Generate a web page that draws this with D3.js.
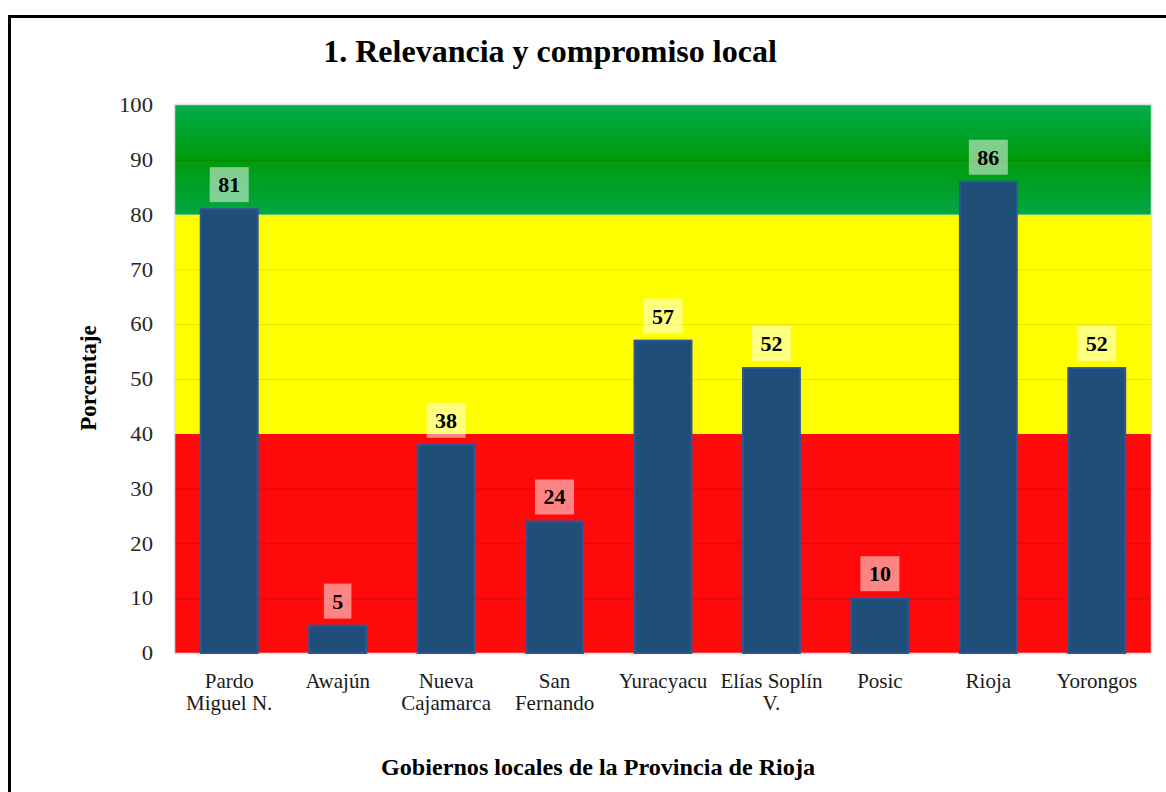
<!DOCTYPE html>
<html><head><meta charset="utf-8">
<script src="https://cdn.jsdelivr.net/npm/d3@7"></script>
<style>body{margin:0;background:#fff}svg{display:block}text{font-family:"Liberation Serif","Times New Roman",serif}</style>
</head><body><svg id="c" width="1166" height="792"></svg>
<script>
const categories = [["Pardo","Miguel N."],["Awajún"],["Nueva","Cajamarca"],["San","Fernando"],["Yuracyacu"],["Elías Soplín","V."],["Posic"],["Rioja"],["Yorongos"]];
const values = [81,5,38,24,57,52,10,86,52];
const yTicks = [0,10,20,30,40,50,60,70,80,90,100];
const bands = [{from:0,to:40,color:"#fe0a0a",grid:"#d80808"},{from:40,to:80,color:"#ffff00",grid:"#e6e600"},{from:80,to:100,color:"url(#gg)",grid:"#008a00"}];
const title = "1. Relevancia y compromiso local";
const yTitle = "Porcentaje";
const xTitle = "Gobiernos locales de la Provincia de Rioja";

const svg = d3.select("#c");
const m = {l:175, r:1151, t:105, b:653};
const x = d3.scaleBand().domain(d3.range(values.length)).range([m.l, m.r]).paddingInner(0.475).paddingOuter(0.2375);
const y = d3.scaleLinear().domain([0,100]).range([m.b, m.t]);

const defs = svg.append("defs");
const g = defs.append("linearGradient").attr("id","gg").attr("x1",0).attr("x2",0).attr("y1",0).attr("y2",1);
g.append("stop").attr("offset","0%").attr("stop-color","#00ad4c");
g.append("stop").attr("offset","50%").attr("stop-color","#009a0c");
g.append("stop").attr("offset","100%").attr("stop-color","#00a844");

// outer frame
svg.append("rect").attr("x",9.5).attr("y",16.5).attr("width",1170).attr("height",800).attr("fill","none").attr("stroke","#000").attr("stroke-width",3);

// bands
svg.selectAll("rect.band").data(bands).join("rect").attr("class","band")
  .attr("x",m.l).attr("width",m.r-m.l)
  .attr("y",d=>y(d.to)).attr("height",d=>y(d.from)-y(d.to)).attr("fill",d=>d.color);

// gridlines
const bandFor = v => bands.find(b => v>b.from && v<b.to);
svg.selectAll("line.grid").data(yTicks.filter(v=>bandFor(v))).join("line").attr("class","grid")
  .attr("x1",m.l).attr("x2",m.r).attr("y1",d=>y(d)+0.5).attr("y2",d=>y(d)+0.5)
  .attr("stroke",d=>bandFor(d).grid).attr("stroke-width",1);

// plot border
svg.append("rect").attr("x",m.l-0.5).attr("y",m.t-0.5).attr("width",m.r-m.l+1).attr("height",m.b-m.t+1)
  .attr("fill","none").attr("stroke","#dbe3ec").attr("stroke-width",1.5);

// bars
svg.selectAll("rect.bar").data(values).join("rect").attr("class","bar")
  .attr("x",(d,i)=>x(i)).attr("width",x.bandwidth())
  .attr("y",d=>y(d)).attr("height",d=>y(0)-y(d))
  .attr("fill","#1f4e79").attr("stroke","#2f5597").attr("stroke-width",2);

// labels
const lab = svg.selectAll("g.lab").data(values).join("g").attr("class","lab")
  .attr("transform",(d,i)=>`translate(${x(i)+x.bandwidth()/2},${y(d)-7})`);
lab.append("rect").attr("x",d=>-(String(d).length*11.5+16)/2).attr("width",d=>String(d).length*11.5+16)
  .attr("y",-35).attr("height",35).attr("fill","#fff").attr("fill-opacity",0.5);
lab.append("text").attr("text-anchor","middle").attr("y",-10).attr("font-size",22).attr("font-weight","bold").attr("fill","#000").text(d=>d);

// y axis ticks
const ya = svg.append("g").attr("transform",`translate(${m.l},0)`)
  .call(d3.axisLeft(y).tickValues(yTicks).tickSize(0).tickPadding(22));
ya.select(".domain").remove();
ya.selectAll("text").attr("font-size",21).attr("fill","#262626").attr("font-family","Liberation Serif")
  .attr("transform","scale(1.08,1)").attr("x",-22/1.08);

// x labels
const xl = svg.selectAll("text.xl").data(categories).join("text").attr("class","xl")
  .attr("text-anchor","middle").attr("font-size",21).attr("fill","#1a1a1a")
  .attr("x",(d,i)=>x(i)+x.bandwidth()/2).attr("y",688);
xl.selectAll("tspan").data(d=>d).join("tspan").attr("x",function(){return this.parentNode.getAttribute("x");})
  .attr("dy",(d,i)=>i?22:0).text(d=>d);

// titles
svg.append("text").attr("x",550).attr("y",62).attr("text-anchor","middle").attr("font-size",32).attr("font-weight","bold").text(title);
svg.append("text").attr("transform","translate(96,378) rotate(-90)").attr("text-anchor","middle").attr("font-size",23).attr("font-weight","bold").text(yTitle);
svg.append("text").attr("x",598).attr("y",775).attr("text-anchor","middle").attr("font-size",23).attr("font-weight","bold")
  .attr("textLength",434).attr("lengthAdjust","spacingAndGlyphs").text(xTitle);
</script></body></html>
